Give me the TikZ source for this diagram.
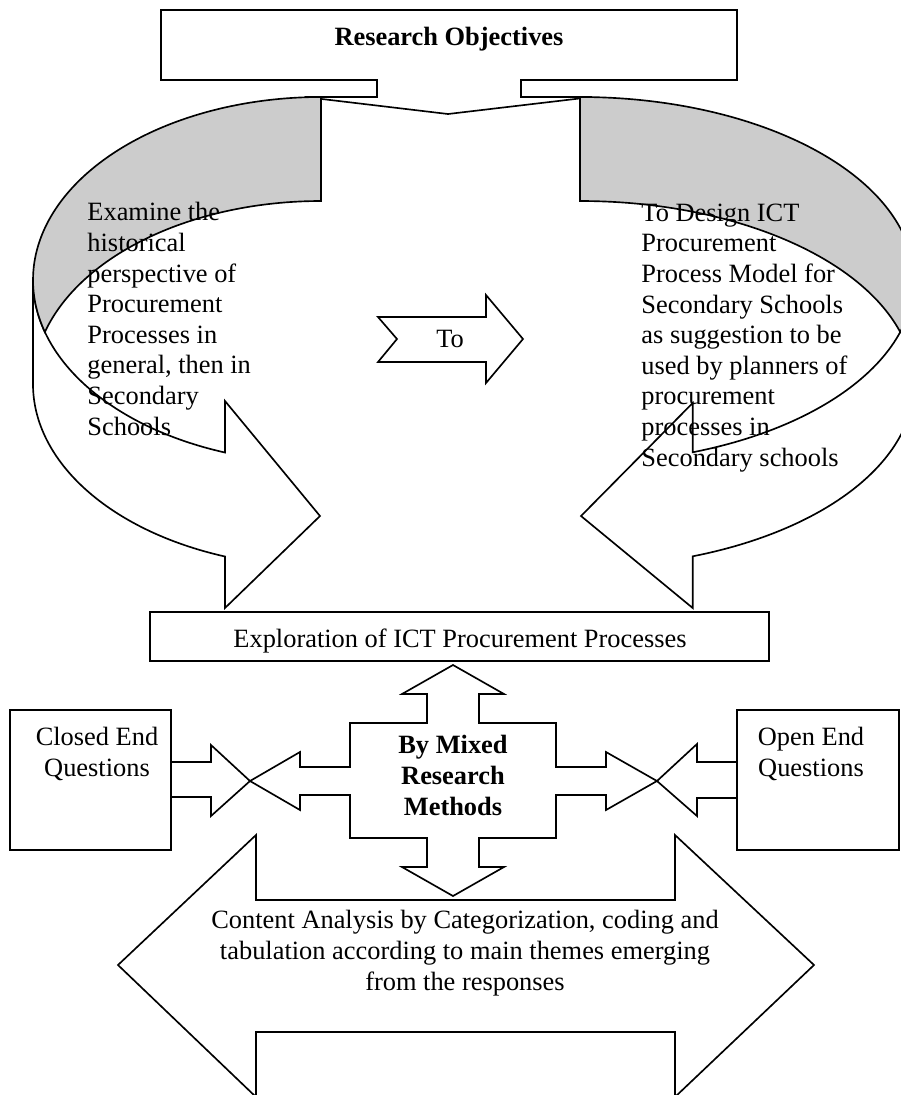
\documentclass[tikz,border=0pt]{standalone}
\usepackage{fontspec}
\setmainfont{Liberation Serif}
\definecolor{shade}{RGB}{204,204,204}
\begin{document}
\begin{tikzpicture}[x=0.4545pt,y=-0.4545pt,
  outline/.style={draw=black,line width=0.75pt,line join=miter},
  frontface/.style={outline,fill=white},
  backface/.style={outline,fill=shade},
  body/.style={font=\fontsize{12}{13.9}\selectfont,inner sep=0pt,text=black},
  strong/.style={body,font=\fontsize{12}{13.9}\selectfont\bfseries},
]
\useasboundingbox (0,0) rectangle (901,1095);
\fill[white] (0,0) rectangle (901,1095);
\clip (0,0) rectangle (901,1095);

% title box with its flat down-pointing callout
\draw[frontface] (161,10) -- (737,10) -- (737,80) -- (521,80) -- (521,97) -- (592,97)
  -- (448,114) -- (305,97) -- (377,97) -- (377,80) -- (161,80) -- cycle;

% left curved arrow: two equal ellipses shifted by the band thickness
\draw[frontface] (33,280) arc[start angle=180,end angle=109.47,x radius=288,y radius=183]
  -- (225,401) -- (320,516) -- (225,608) -- (225,556.5)
  arc[start angle=109.47,end angle=180,x radius=288,y radius=183] -- cycle;
\draw[backface] (321,97) -- (321,201)
  arc[start angle=270,end angle=196.51,x radius=288,y radius=183]
  arc[start angle=163.49,end angle=270,x radius=288,y radius=183] -- cycle;

% right curved arrow, mirrored
\draw[frontface] (914,280) arc[start angle=0,end angle=70.28,x radius=334,y radius=183]
  -- (692.7,403) -- (581,516) -- (692.7,608) -- (692.7,556.3)
  arc[start angle=70.28,end angle=0,x radius=334,y radius=183] -- cycle;
\draw[backface] (580,97) -- (580,201)
  arc[start angle=270,end angle=343.49,x radius=334,y radius=183]
  arc[start angle=16.51,end angle=-90,x radius=334,y radius=183] -- cycle;

% notched arrow between the two objectives
\draw[frontface] (378,317) -- (486,317) -- (486,295) -- (523,339) -- (486,383)
  -- (486,362) -- (378,362) -- (397,339) -- cycle;

% exploration bar
\draw[frontface] (150,612) rectangle (769,661);

% four-way arrow around the methods
\draw[frontface] (453,665) -- (504,694) -- (479,694) -- (479,723) -- (556,723) -- (556,767)
  -- (606,767) -- (606,752) -- (657,781) -- (606,810) -- (606,795) -- (556,795)
  -- (556,838) -- (479,838) -- (479,867) -- (504,867) -- (453,896) -- (402,867)
  -- (427,867) -- (427,838) -- (350,838) -- (350,795) -- (300,795) -- (300,810)
  -- (250,781) -- (300,752) -- (300,767) -- (350,767) -- (350,723) -- (427,723)
  -- (427,694) -- (402,694) -- cycle;

% arrows coming from the question boxes
\draw[frontface] (150,762) -- (211,762) -- (211,745) -- (250,781) -- (211,816)
  -- (211,797) -- (150,797) -- cycle;
\draw[frontface] (760,762) -- (697,762) -- (697,744) -- (657,781) -- (697,816)
  -- (697,798) -- (760,798) -- cycle;
\draw[frontface] (10,710) rectangle (171,850);
\draw[frontface] (737,710) rectangle (899,850);

% wide double-headed arrow for the analysis
\draw[frontface] (118,965) -- (256,835) -- (256,900) -- (675,900) -- (675,835)
  -- (814,965) -- (675,1097) -- (675,1032) -- (256,1032) -- (256,1097) -- cycle;

% texts (multi-line nodes sit on the baseline of their last line)
\node[strong,anchor=base] (objectives) at (449,45) {Research Objectives};
\node[body,anchor=base west,align=left] (history) at (87,435)
  {Examine the\\historical\\perspective of\\Procurement\\Processes in\\general, then in\\Secondary\\Schools};
\node[body,anchor=base west,align=left] (design) at (641,466)
  {To Design ICT\\Procurement\\Process Model for\\Secondary Schools\\as suggestion to be\\used by planners of\\procurement\\processes in\\Secondary schools};
\node[body,anchor=base] (to) at (450,347) {To};
\node[body,anchor=base] (explore) at (460,647) {Exploration of ICT Procurement Processes};
\node[body,anchor=base,align=center] (closed) at (97,776) {Closed End\\Questions};
\node[body,anchor=base,align=center] (open) at (811,776) {Open End\\Questions};
\node[strong,anchor=base,align=center] (mixed) at (453,815) {By Mixed\\Research\\Methods};
\node[body,anchor=base,align=center] (content) at (465,990)
  {Content Analysis by Categorization, coding and\\tabulation according to main themes emerging\\from the responses};
\end{tikzpicture}
\end{document}
